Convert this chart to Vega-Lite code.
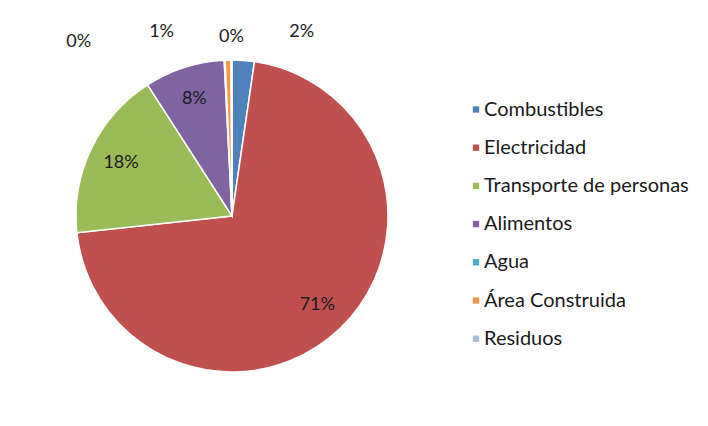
{
  "$schema": "https://vega.github.io/schema/vega-lite/v6.json",
  "width": 448,
  "height": 420,
  "autosize": {"type": "none"},
  "padding": {"left": 8, "top": 6, "right": 252, "bottom": 0},
  "background": "white",
  "config": {"view": {"stroke": null}, "font": "Lato"},
  "data": {
    "values": [
      {"category": "Combustibles", "value": 0.023, "order": 1},
      {"category": "Electricidad", "value": 0.710, "order": 2},
      {"category": "Transporte de personas", "value": 0.176, "order": 3},
      {"category": "Alimentos", "value": 0.083, "order": 4},
      {"category": "Agua", "value": 0.001, "order": 5},
      {"category": "Área Construida", "value": 0.006, "order": 6},
      {"category": "Residuos", "value": 0.001, "order": 7}
    ]
  },
  "encoding": {
    "theta": {"field": "value", "type": "quantitative", "stack": true},
    "order": {"field": "order", "type": "quantitative"}
  },
  "layer": [
    {
      "mark": {"type": "arc", "outerRadius": 156, "stroke": "white", "strokeWidth": 1.5},
      "encoding": {
        "color": {
          "field": "category",
          "type": "nominal",
          "sort": null,
          "scale": {
            "domain": ["Combustibles", "Electricidad", "Transporte de personas", "Alimentos", "Agua", "Área Construida", "Residuos"],
            "range": ["#4F81BD", "#C0504D", "#9BBB59", "#8064A2", "#4BACC6", "#F79646", "#A9BEDB"]
          },
          "legend": {
            "orient": "none",
            "legendX": 458,
            "legendY": 93.5,
            "title": null,
            "symbolType": "square",
            "symbolSize": 40,
            "symbolStrokeWidth": 0,
            "labelFontSize": 20,
            "labelFont": "Lato",
            "labelColor": "#1a1a1a",
            "labelOffset": -2,
            "rowPadding": 18.2,
            "labelLimit": 300
          }
        }
      }
    },
    {
      "mark": {"type": "text", "radius": 123, "fontSize": 18, "color": "#1a1a1a"},
      "encoding": {
        "text": {"condition": {"test": "datum.order >= 2 && datum.order <= 4", "field": "value", "format": ".0%"}, "value": ""}
      }
    },
    {
      "mark": {"type": "text", "radius": 175, "fontSize": 18, "color": "#1a1a1a", "dx": 57, "dy": -9},
      "encoding": {
        "text": {"condition": {"test": "datum.order == 1", "field": "value", "format": ".0%"}, "value": ""}
      }
    },
    {
      "mark": {"type": "text", "radius": 175, "fontSize": 18, "color": "#1a1a1a", "dx": -145, "dy": 1},
      "encoding": {
        "text": {"condition": {"test": "datum.order == 5", "field": "value", "format": ".0%"}, "value": ""}
      }
    },
    {
      "mark": {"type": "text", "radius": 175, "fontSize": 18, "color": "#1a1a1a", "dx": -66, "dy": -9},
      "encoding": {
        "text": {"condition": {"test": "datum.order == 6", "field": "value", "format": ".0%"}, "value": ""}
      }
    },
    {
      "mark": {"type": "text", "radius": 175, "fontSize": 18, "color": "#1a1a1a", "dx": 0, "dy": -4},
      "encoding": {
        "text": {"condition": {"test": "datum.order == 7", "field": "value", "format": ".0%"}, "value": ""}
      }
    }
  ]
}
